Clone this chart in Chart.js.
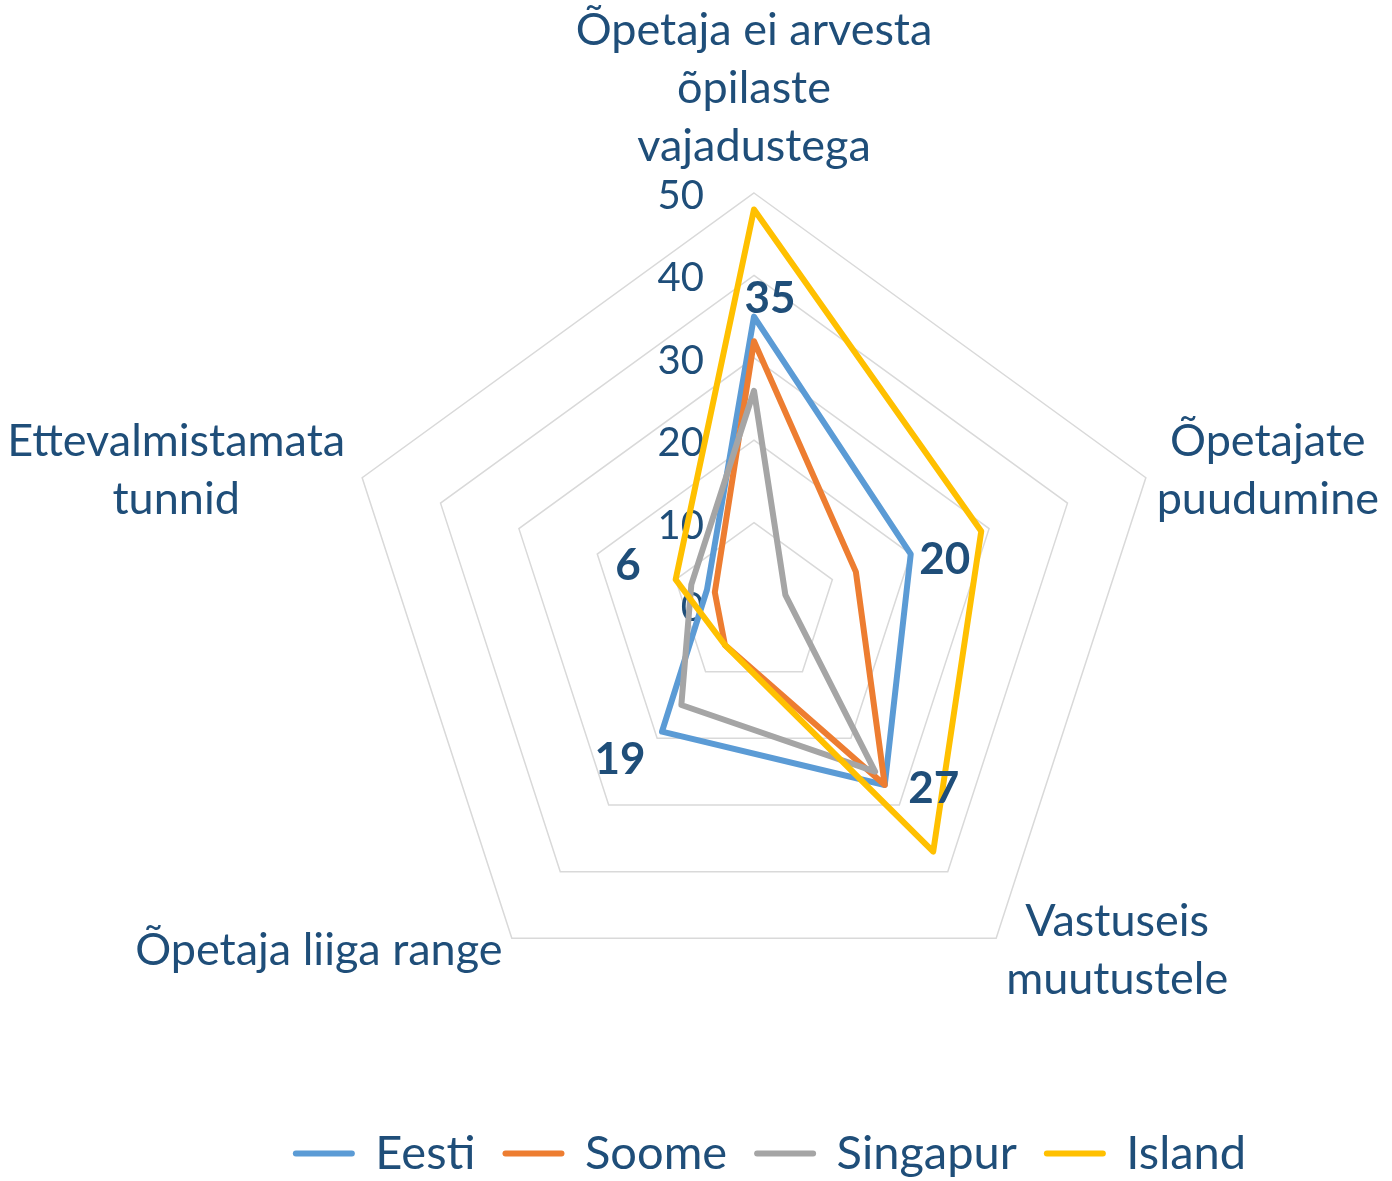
<!DOCTYPE html>
<html>
<head>
<meta charset="utf-8">
<script src="https://cdn.jsdelivr.net/npm/chart.js@4/dist/chart.umd.min.js"></script>
<style>
  html, body { margin: 0; padding: 0; background: #fff; }
  #wrap { width: 1392px; height: 1181px; }
</style>
</head>
<body>
<div id="wrap"><canvas id="radarChart"></canvas></div>
<script>
const categories = [
  ["Õpetaja ei arvesta", "õpilaste", "vajadustega"],
  ["Õpetajate", "puudumine"],
  ["Vastuseis", "muutustele"],
  ["Õpetaja liiga range"],
  ["Ettevalmistamata", "tunnid"]
];
const eesti = [35, 20, 27, 19, 6];
const soome = [32, 13, 27, 6, 5];
const singapur = [26, 4, 25, 15, 8];
const island = [48, 29, 37, 6, 10];
const tickValues = [0, 10, 20, 30, 40, 50];

const textColor = "#1F4E79";
const fontFamily = "Lato, 'Noto Sans', sans-serif";

// where each label block sits, measured from the outer vertex
const labelShift = [[0, -105], [122, -7], [121, 12], [-193, 12], [-186, -7]];
const valueShift = [[16, -18], [34, 6], [49, 4], [-42, 28], [-79, -24]];

const radarText = {
  id: "radarText",
  beforeDatasetsDraw(chart) {
    const scale = chart.scales.r;
    const ctx = chart.ctx;
    ctx.save();
    ctx.fillStyle = textColor;
    ctx.textBaseline = "middle";
    ctx.font = "40px " + fontFamily;
    ctx.textAlign = "right";
    tickValues.forEach(v => {
      const y = scale.yCenter - scale.getDistanceFromCenterForValue(v);
      ctx.fillText(String(v), scale.xCenter - 50, y + 3);
    });
    ctx.restore();
  },
  afterDatasetsDraw(chart) {
    const scale = chart.scales.r;
    const ctx = chart.ctx;
    ctx.save();
    ctx.fillStyle = textColor;
    ctx.textBaseline = "middle";
    ctx.textAlign = "center";

    ctx.font = "45px " + fontFamily;
    const lineH = 58;
    categories.forEach((lines, i) => {
      const p = scale.getPointPosition(i, scale.drawingArea);
      const cx = p.x + labelShift[i][0];
      const cy = p.y + labelShift[i][1];
      const top = cy - (lines.length - 1) * lineH / 2;
      lines.forEach((t, k) => ctx.fillText(t, cx, top + k * lineH));
    });

    ctx.font = "bold 44px " + fontFamily;
    eesti.forEach((v, i) => {
      const p = scale.getPointPositionForValue(i, v);
      ctx.fillText(String(v), p.x + valueShift[i][0], p.y + valueShift[i][1]);
    });
    ctx.restore();
  }
};

function series(label, data, color, order) {
  return {
    label: label,
    data: data,
    borderColor: color,
    backgroundColor: color,
    borderWidth: 6,
    fill: false,
    tension: 0,
    borderJoinStyle: "round",
    borderCapStyle: "round",
    pointRadius: 0,
    pointHoverRadius: 0,
    pointBorderColor: color,
    pointBackgroundColor: color,
    clip: false,
    order: order
  };
}

const ctx = document.getElementById("radarChart").getContext("2d");

new Chart(ctx, {
  type: "radar",
  data: {
    labels: categories,
    datasets: [
      series("Eesti", eesti, "#5B9BD5", 3),
      series("Soome", soome, "#ED7D31", 2),
      series("Singapur", singapur, "#A5A5A5", 1),
      series("Island", island, "#FFC000", 0)
    ]
  },
  options: {
    responsive: true,
    maintainAspectRatio: false,
    animation: false,
    elements: { line: { borderWidth: 6 } },
    layout: { padding: { left: 150, bottom: -6 } },
    scales: {
      r: {
        min: 0,
        max: 50,
        ticks: { display: false, stepSize: 10 },
        grid: { color: "#D9D9D9", lineWidth: 1.5 },
        angleLines: { display: false },
        pointLabels: { display: false },
        afterFit(scale) {
          scale.xCenter = 754;
          scale.yCenter = 605;
          scale.drawingArea = 412;
        }
      }
    },
    plugins: {
      legend: {
        position: "bottom",
        labels: {
          usePointStyle: true,
          pointStyle: "line",
          pointStyleWidth: 56,
          padding: 30,
          color: textColor,
          font: { family: fontFamily, size: 47 },
          generateLabels(chart) {
            const items = Chart.defaults.plugins.legend.labels.generateLabels(chart);
            items.forEach(it => {
              const c = chart.data.datasets[it.datasetIndex].borderColor;
              it.strokeStyle = c;
              it.fillStyle = c;
              it.lineWidth = 6;
              it.lineCap = "round";
            });
            return items;
          },
          sort: (a, b) => a.datasetIndex - b.datasetIndex
        }
      },
      tooltip: { enabled: false }
    }
  },
  plugins: [radarText]
});
</script>
</body>
</html>
